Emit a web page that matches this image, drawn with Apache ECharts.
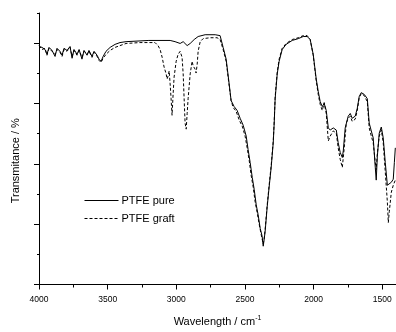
<!DOCTYPE html>
<html>
<head>
<meta charset="utf-8">
<script src="https://cdn.jsdelivr.net/npm/echarts@6/dist/echarts.min.js"></script>
<style>
  html, body { margin: 0; padding: 0; background: #fff; }
  #main { width: 396px; height: 332px; }
</style>
</head>
<body>
<div id="main"></div>
<script>
// wavenumber (cm-1) and transmittance (%)
const pureWave = [4000, 3978, 3956, 3942, 3927, 3905, 3883, 3869, 3847, 3832, 3818, 3796, 3774, 3759, 3745, 3723, 3708, 3687, 3672, 3650, 3636, 3614, 3599, 3577, 3563, 3548, 3533, 3512, 3482, 3446, 3410, 3366, 3200, 3045, 3009, 2972, 2950, 2921, 2899, 2870, 2841, 2790, 2717, 2681, 2659, 2637, 2615, 2601, 2579, 2557, 2535, 2513, 2491, 2477, 2462, 2447, 2433, 2418, 2404, 2389, 2375, 2367, 2360, 2353, 2338, 2324, 2309, 2294, 2287, 2280, 2265, 2251, 2229, 2200, 2156, 2112, 2076, 2047, 2025, 2003, 1981, 1966, 1952, 1937, 1923, 1908, 1893, 1879, 1857, 1835, 1821, 1806, 1791, 1784, 1770, 1748, 1733, 1719, 1697, 1682, 1668, 1653, 1631, 1609, 1595, 1580, 1566, 1551, 1544, 1536, 1522, 1507, 1493, 1478, 1463, 1449, 1434, 1420, 1412, 1405];
const pureT = [78.9, 78.6, 77.9, 76.3, 78.6, 77.6, 75.6, 78.3, 77.3, 76.0, 78.3, 77.6, 78.9, 75.0, 77.9, 76.3, 77.9, 74.7, 77.6, 76.0, 77.6, 75.6, 77.3, 76.0, 74.7, 74.0, 75.6, 77.3, 78.6, 79.6, 80.2, 80.5, 80.9, 80.9, 80.5, 79.9, 80.5, 79.2, 79.9, 81.2, 82.2, 82.8, 82.8, 82.5, 78.6, 74.7, 66.5, 61.0, 59.0, 57.7, 55.1, 52.8, 49.2, 44.7, 40.4, 35.5, 31.6, 26.4, 23.1, 18.6, 16.0, 12.7, 15.0, 17.6, 25.8, 32.3, 38.8, 47.0, 53.5, 61.6, 69.8, 74.0, 77.9, 79.6, 80.9, 81.5, 82.2, 82.2, 81.2, 76.3, 68.1, 63.9, 60.6, 59.0, 60.0, 57.7, 51.9, 51.2, 51.9, 51.2, 47.0, 43.7, 42.1, 44.3, 51.9, 55.8, 56.7, 55.1, 55.8, 58.4, 62.3, 63.6, 63.0, 61.6, 53.5, 50.9, 48.6, 38.8, 34.6, 42.4, 50.2, 52.2, 48.6, 40.4, 32.9, 32.3, 33.9, 34.9, 40.4, 45.3];

const graftWave = [4000, 3978, 3956, 3942, 3927, 3905, 3883, 3869, 3847, 3832, 3818, 3796, 3774, 3759, 3745, 3723, 3708, 3687, 3672, 3650, 3636, 3614, 3599, 3577, 3563, 3548, 3533, 3512, 3482, 3446, 3410, 3366, 3264, 3155, 3133, 3118, 3103, 3089, 3074, 3067, 3060, 3052, 3045, 3038, 3031, 3023, 3016, 3001, 2987, 2972, 2958, 2950, 2943, 2936, 2928, 2921, 2914, 2899, 2885, 2877, 2863, 2856, 2848, 2841, 2826, 2805, 2754, 2703, 2681, 2659, 2637, 2615, 2601, 2586, 2564, 2542, 2520, 2499, 2484, 2469, 2455, 2440, 2426, 2411, 2396, 2382, 2367, 2360, 2353, 2338, 2324, 2309, 2294, 2287, 2280, 2265, 2251, 2229, 2200, 2156, 2112, 2076, 2047, 2025, 2003, 1981, 1966, 1952, 1937, 1923, 1908, 1893, 1879, 1857, 1835, 1821, 1806, 1791, 1777, 1762, 1748, 1733, 1719, 1697, 1682, 1668, 1653, 1631, 1609, 1595, 1580, 1566, 1551, 1544, 1536, 1522, 1507, 1493, 1478, 1463, 1456, 1449, 1434, 1420, 1405];
const graftT = [79.2, 77.9, 78.3, 76.0, 78.3, 77.3, 76.3, 77.9, 77.0, 75.6, 77.9, 77.3, 78.6, 75.6, 77.6, 76.0, 77.6, 75.3, 77.3, 76.3, 77.3, 75.3, 77.0, 75.6, 74.3, 73.6, 75.0, 76.3, 77.6, 78.6, 79.2, 79.9, 80.2, 80.2, 79.2, 77.9, 75.3, 72.1, 69.8, 68.1, 69.1, 70.8, 66.5, 61.6, 56.1, 63.3, 68.8, 74.0, 76.3, 77.3, 75.3, 69.8, 61.6, 53.5, 51.5, 56.7, 61.6, 69.8, 74.0, 72.4, 71.4, 70.1, 73.0, 77.3, 80.5, 81.5, 81.8, 81.8, 81.2, 77.9, 74.0, 65.9, 61.0, 58.7, 57.4, 54.5, 52.5, 49.2, 45.3, 41.1, 36.2, 32.3, 27.4, 23.8, 19.9, 16.6, 13.4, 15.3, 18.3, 26.4, 32.9, 39.5, 47.6, 54.1, 62.3, 70.4, 74.7, 78.3, 79.9, 81.2, 81.8, 82.5, 82.5, 81.2, 76.0, 67.5, 62.9, 59.7, 57.7, 60.3, 56.7, 47.6, 49.2, 50.9, 50.2, 45.3, 41.4, 38.8, 45.3, 53.5, 55.1, 55.8, 54.1, 54.8, 57.7, 61.9, 63.3, 62.6, 60.6, 51.9, 49.2, 47.0, 40.4, 38.1, 43.4, 49.2, 51.2, 47.0, 37.2, 27.4, 20.5, 24.1, 30.6, 32.9, 34.6];

const xMajor = [4000, 3500, 3000, 2500, 2000, 1500];
const xMinor = [3750, 3250, 2750, 2250, 1750];
const yMajor = [0, 20, 40, 60, 80];
const yMinor = [10, 30, 50, 70, 90];

const seriesNames = ["PTFE pure", "PTFE graft"];

const font = "'Liberation Sans', Arial, sans-serif";

let zip = (xs, ys) => xs.map((x, i) => [x, ys[i]]);

let chart = echarts.init(document.getElementById("main"));

let option = {
  animation: false,
  backgroundColor: "#fff",
  grid: { left: 39, right: 0, top: 13, bottom: 43 },
  legend: {
    orient: "vertical",
    left: 84,
    top: 195,
    padding: 0,
    itemWidth: 34,
    itemHeight: 10,
    itemGap: 7,
    data: seriesNames,
    itemStyle: { opacity: 0 },
    lineStyle: { width: 1 },
    textStyle: { fontFamily: font, fontSize: 11, color: "#000", padding: [0, 0, 0, -2] },
  },
  xAxis: [
    {
      type: "value",
      inverse: true,
      min: 1400,
      max: 4000,
      name: "Wavelength / cm{sup|-1}",
      nameLocation: "middle",
      nameGap: 30,
      nameTextStyle: {
        fontFamily: font,
        fontSize: 11,
        color: "#000",
        rich: { sup: { fontSize: 7, verticalAlign: "top", padding: [0, 0, 7, 0], fontFamily: font, color: "#000" } },
      },
      axisLine: { onZero: false, lineStyle: { color: "#000", width: 1 } },
      axisTick: { customValues: xMajor, length: 5, lineStyle: { color: "#000" } },
      axisLabel: {
        customValues: xMajor,
        formatter: (v) => String(v),
        margin: 11,
        fontFamily: font,
        fontSize: 8.5,
        color: "#000",
      },
      splitLine: { show: false },
    },
    {
      type: "value",
      inverse: true,
      min: 1400,
      max: 4000,
      position: "bottom",
      axisLine: { show: false },
      axisTick: { customValues: xMinor, length: 3, lineStyle: { color: "#000" } },
      axisLabel: { show: false },
      splitLine: { show: false },
    },
  ],
  yAxis: [
    {
      type: "value",
      min: 0,
      max: 90,
      name: "Transmitance / %",
      nameLocation: "middle",
      nameGap: 18,
      nameTextStyle: { fontFamily: font, fontSize: 11, color: "#000", padding: [0, 24, 0, 0] },
      axisLine: { show: true, onZero: false, lineStyle: { color: "#000", width: 1 } },
      axisTick: { customValues: yMajor, length: 5, lineStyle: { color: "#000" } },
      axisLabel: { show: false },
      splitLine: { show: false },
    },
    {
      type: "value",
      min: 0,
      max: 90,
      position: "left",
      axisLine: { show: false },
      axisTick: { show: true, customValues: yMinor, length: 2, lineStyle: { color: "#000" } },
      axisLabel: { show: false },
      splitLine: { show: false },
    },
  ],
  series: [
    {
      name: seriesNames[0],
      type: "line",
      symbol: "none",
      data: zip(pureWave, pureT),
      lineStyle: { color: "#000", width: 1, type: "solid" },
      itemStyle: { color: "#000" },
    },
    {
      name: seriesNames[1],
      type: "line",
      symbol: "none",
      data: zip(graftWave, graftT),
      lineStyle: { color: "#000", width: 1, type: [3, 2] },
      itemStyle: { color: "#000" },
    },
  ],
};

chart.setOption(option);
</script>
</body>
</html>
